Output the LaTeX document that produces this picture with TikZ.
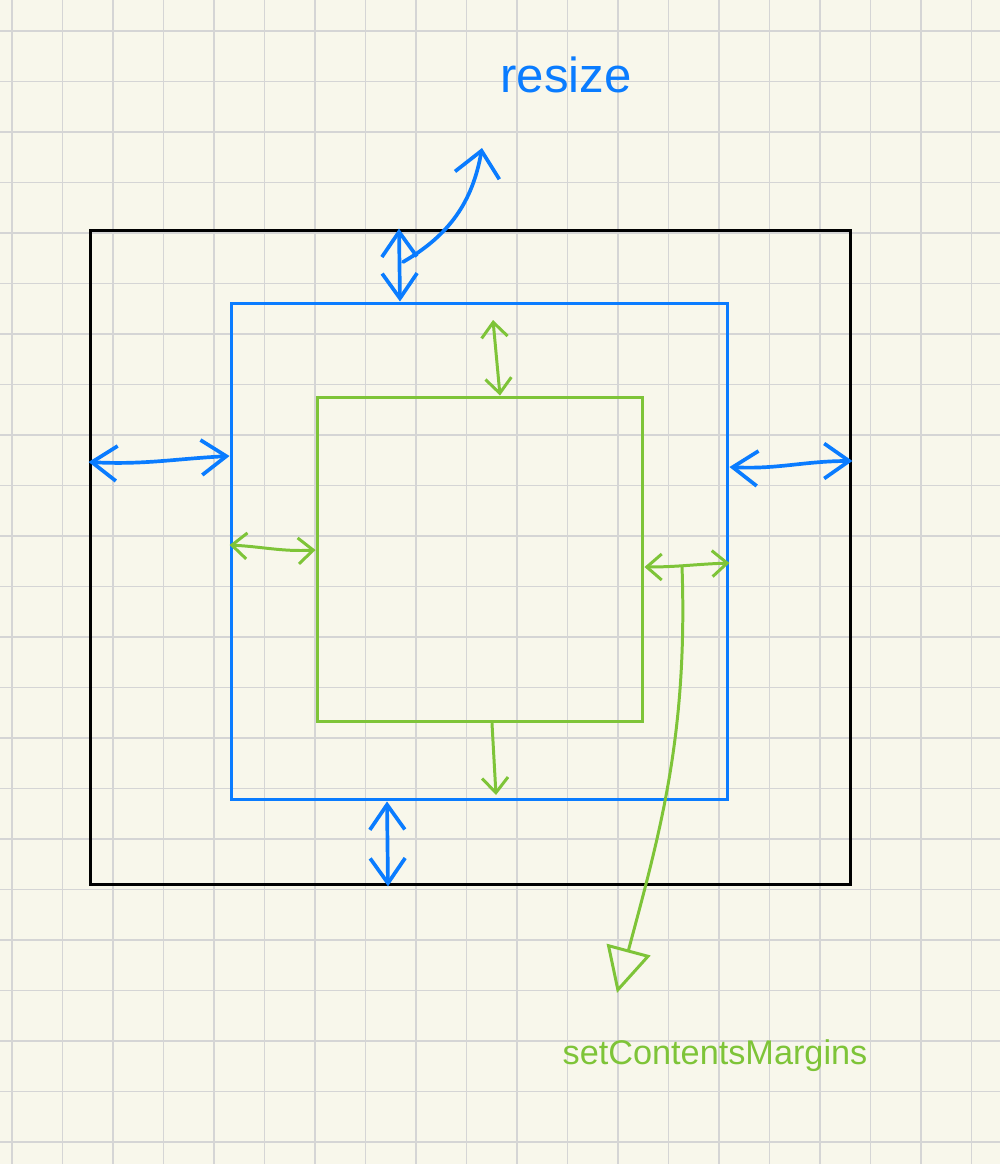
\documentclass[tikz,border=0pt]{standalone}
\usepackage{fontspec}
\usetikzlibrary{arrows.meta}
\newfontfamily\handfont{Liberation Sans}
\definecolor{paper}{RGB}{248,247,235}
\definecolor{gridgray}{RGB}{213,213,213}
\definecolor{resizeblue}{RGB}{10,124,255}
\definecolor{margingreen}{RGB}{126,196,56}
\tikzset{
    box/.style={draw, rectangle, inner sep=0pt, line width=1.7pt},
    bluearrow/.style={{Straight Barb[length=5mm,width=7mm]}-{Straight Barb[length=5mm,width=7mm]}, draw=resizeblue, line width=2.1pt, line cap=round},
    greenarrow/.style={{Straight Barb[length=3mm,width=5.2mm]}-{Straight Barb[length=3mm,width=5.2mm]}, draw=margingreen, line width=1.7pt, line cap=round},
    label/.style={font=\handfont, inner sep=0pt}
}

\begin{document}
\begin{tikzpicture}[x=0.02cm, y=-0.02cm]
\useasboundingbox (0,0) rectangle (1000,1164);
\fill[paper] (0,0) rectangle (1000,1164);
\foreach \k in {0,...,19}
    \draw[gridgray, line width=0.9pt] ({12+50.5*\k},0) -- ({12+50.5*\k},1164);
\foreach \k in {0,...,22}
    \draw[gridgray, line width=0.9pt] (0,{31+50.5*\k}) -- (1000,{31+50.5*\k});

\node[box, draw=black, minimum width=15.22cm, minimum height=13.1cm] (window) at (470.5,557.5) {};
\node[box, draw=resizeblue, minimum width=9.94cm, minimum height=9.94cm] (frame) at (479.5,551.5) {};
\node[box, draw=margingreen, minimum width=6.52cm, minimum height=6.5cm] (content) at (480,559.5) {};

\node[label, text=resizeblue, font=\handfont\fontsize{28}{32}\selectfont] (resize) at (566,75) {resize};
\node[label, text=margingreen, font=\handfont\fontsize{19.5}{24}\selectfont] (margins) at (715,1056) {setContentsMargins};

\coordinate (resizefoot) at (403,262);
\coordinate (resizetip) at (482,148);
\coordinate (gtop1) at (493,320);
\coordinate (gbot2) at (496,795);
\coordinate (pointerfoot) at (682,566);
\coordinate (pointertip) at (617,993);

\draw[bluearrow] (window.west |- 0,462) to[out=-3,in=183] (frame.west |- 0,456);
\draw[bluearrow] (frame.east |- 0,467) to[out=-3,in=180] (window.east |- 0,461);
\draw[bluearrow] (window.north -| 399,0) -- (frame.north -| 400,0);
\draw[bluearrow] (frame.south -| 387,0) -- (window.south -| 388,0);
\draw[draw=resizeblue, line width=2.1pt, line cap=round, -{Straight Barb[length=5mm,width=9mm]}] (resizefoot) to[out=30,in=-100] (resizetip);

\draw[greenarrow] (gtop1) -- (content.north -| 500,0);
\draw[greenarrow] (frame.west |- 0,545) to[out=-3,in=183] (content.west |- 0,550);
\draw[greenarrow] (content.east |- 0,567) to[out=0,in=182] (frame.east |- 0,563);
\draw[draw=margingreen, line width=1.7pt, line cap=round, -{Straight Barb[length=3mm,width=5.2mm]}] (content.south -| 492,0) -- (gbot2);
\draw[draw=margingreen, line width=1.7pt, line cap=round, -{Triangle[open, length=9mm, width=9mm]}] (pointerfoot) to[out=-88,in=75] (pointertip);
\end{tikzpicture}
\end{document}
